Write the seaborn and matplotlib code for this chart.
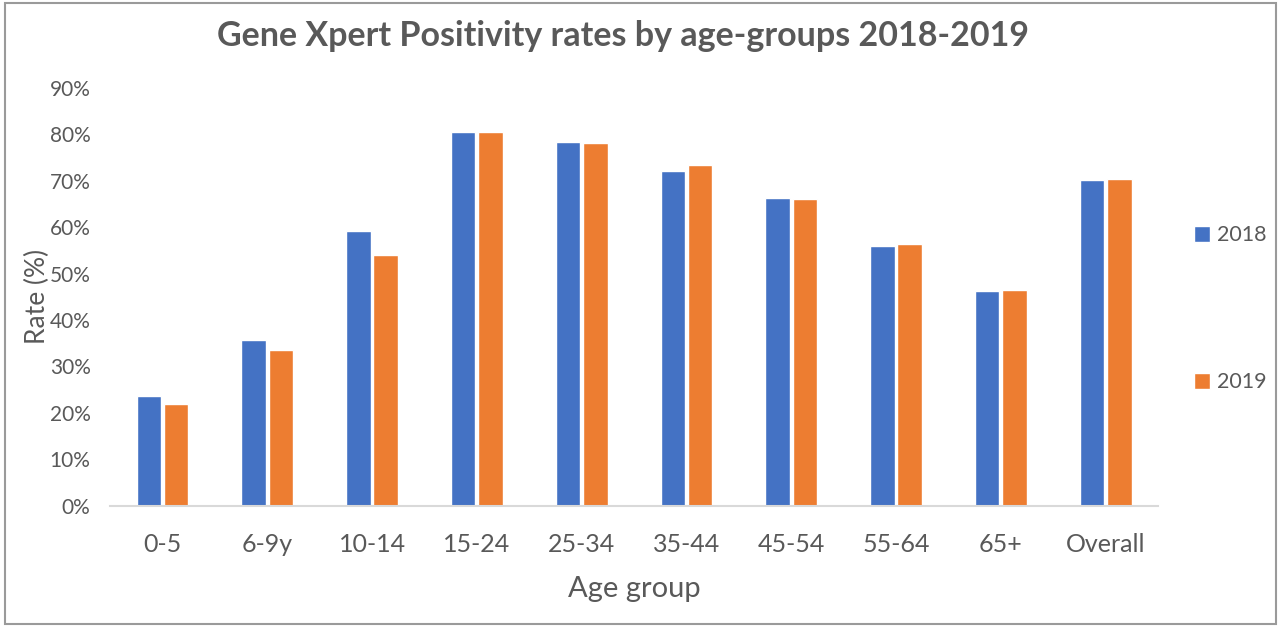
import pandas as pd
import seaborn as sns
import matplotlib.pyplot as plt
from matplotlib.patches import Rectangle, Patch
from matplotlib.ticker import PercentFormatter

groups = ["0-5", "6-9y", "10-14", "15-24", "25-34", "35-44", "45-54", "55-64", "65+", "Overall"]
rate_2018 = [23.6, 35.6, 59.2, 80.6, 78.4, 72.1, 66.3, 55.9, 46.3, 70.1]
rate_2019 = [21.9, 33.5, 54.0, 80.6, 78.1, 73.3, 66.0, 56.3, 46.4, 70.4]
years = ["2018", "2019"]
colors = ["#4472C4", "#ED7D31"]

data = pd.DataFrame({
    "group": groups * 2,
    "year": [years[0]] * len(groups) + [years[1]] * len(groups),
    "rate": rate_2018 + rate_2019,
})

sns.set_style("white")
plt.rcParams["font.family"] = ["Lato", "DejaVu Sans"]
txt = "#595959"

fig = plt.figure(figsize=(12.81, 6.28), dpi=100)
ax = fig.add_axes([0.0859, 0.195, 0.8181, 0.665])

sns.barplot(data=data, x="group", y="rate", hue="year", palette=colors,
            width=0.52, gap=0.1, ax=ax, legend=False, saturation=1)

ax.set_ylim(0, 90)
ax.set_xlim(-0.5, len(groups) - 0.5)
ax.set_yticks(range(0, 91, 10))
ax.yaxis.set_major_formatter(PercentFormatter(decimals=0))
ax.tick_params(axis="y", labelsize=15, colors=txt, length=0, pad=14)
ax.tick_params(axis="x", labelsize=18, colors=txt, length=0, pad=20)
for s in ["top", "right", "left"]:
    ax.spines[s].set_visible(False)
ax.spines["bottom"].set_color("#d9d9d9")
ax.spines["bottom"].set_linewidth(1.5)

ax.set_xlabel("Age group", fontsize=21, color=txt, labelpad=14)
ax.set_ylabel("Rate (%)", fontsize=19, color=txt, labelpad=0)
fig.suptitle("Gene Xpert Positivity rates by age-groups 2018-2019",
             x=0.486, y=0.968, fontsize=24.5, fontweight="bold", color=txt)

handles = [Patch(facecolor=c, label=y) for c, y in zip(colors, years)]
fig.legend(handles=handles, loc="center left", bbox_to_anchor=(0.917, 0.508),
           frameon=False, fontsize=15.5, labelcolor=txt, labelspacing=5.9,
           handlelength=0.75, handleheight=0.75, handletextpad=0.3)

fig.patches.append(Rectangle((0.004, 0.006), 0.992, 0.99, transform=fig.transFigure,
                             fill=False, edgecolor="#9a9a9a", linewidth=1.5))

plt.savefig("out.png", dpi=100)
